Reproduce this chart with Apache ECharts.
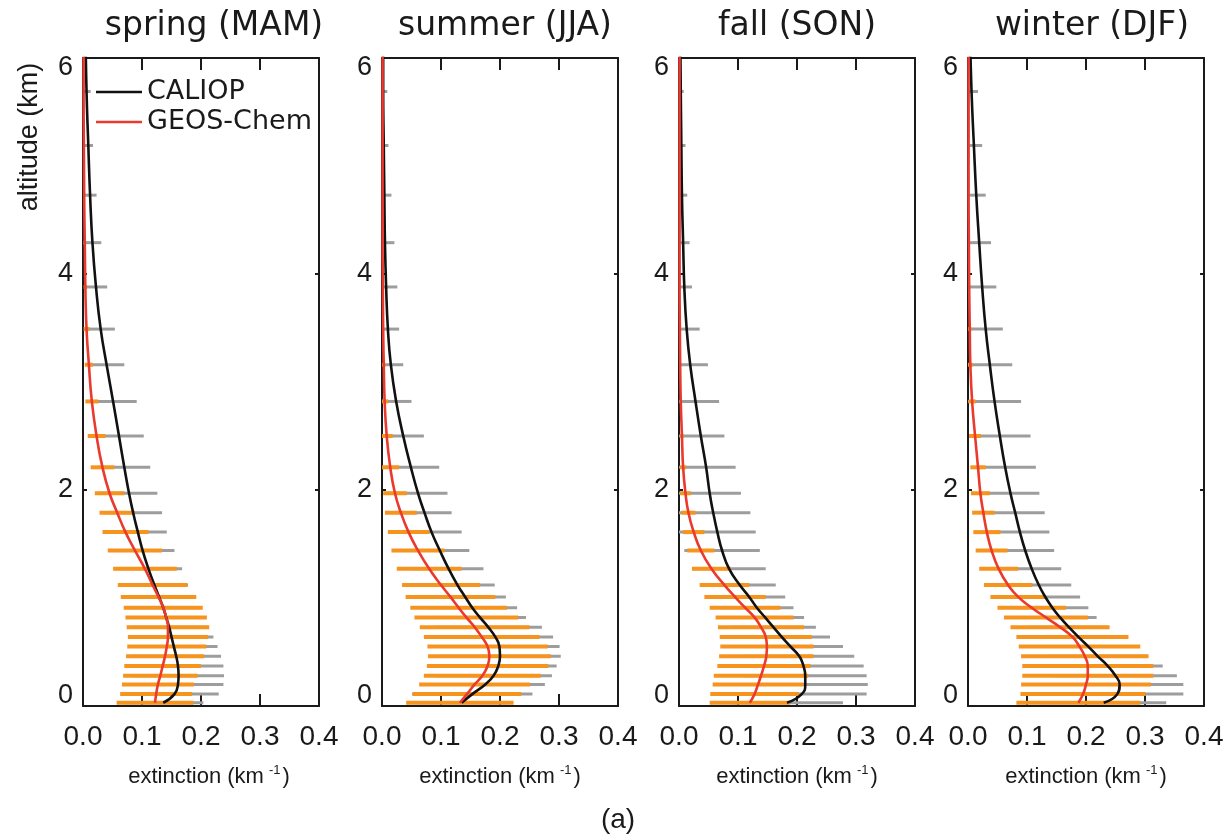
<!DOCTYPE html>
<html>
<head>
<meta charset="utf-8">
<script src="https://cdn.jsdelivr.net/npm/echarts@6/dist/echarts.min.js"></script>
<style>
  html, body { margin: 0; padding: 0; background: #ffffff; }
  #chart { width: 1227px; height: 838px; }
</style>
</head>
<body>
<div id="chart"></div>
<script>
// Altitude of each profile level (km)
const altitudes = [0.03, 0.11, 0.20, 0.28, 0.37, 0.46, 0.55, 0.64, 0.73, 0.82, 0.91, 1.01, 1.12, 1.27, 1.44,
  1.61, 1.79, 1.97, 2.21, 2.50, 2.82, 3.16, 3.49, 3.88, 4.29, 4.73, 5.19, 5.69, 6.30];

const seasonTitles = ['spring (MAM)', 'summer (JJA)', 'fall (SON)', 'winter (DJF)'];
const extinctionTicks = ['0.0', '0.1', '0.2', '0.3', '0.4'];
const altitudeTicks = ['0', '2', '4', '6'];

// Extinction profiles (km-1): CALIOP mean / std, GEOS-Chem mean / std
const springCaliop    = [0.136, 0.155, 0.161, 0.162, 0.161, 0.158, 0.154, 0.150, 0.146, 0.141, 0.136, 0.129, 0.121, 0.111, 0.101, 0.093, 0.085, 0.078, 0.070, 0.061, 0.051, 0.040, 0.030, 0.022, 0.016, 0.012, 0.009, 0.006, 0.004];
const springCaliopSd  = [0.068, 0.075, 0.077, 0.077, 0.077, 0.076, 0.074, 0.071, 0.065, 0.061, 0.060, 0.060, 0.057, 0.057, 0.054, 0.049, 0.049, 0.048, 0.044, 0.042, 0.040, 0.030, 0.024, 0.019, 0.015, 0.011, 0.008, 0.007, 0.006];
const springGeos      = [0.122, 0.124, 0.127, 0.131, 0.135, 0.139, 0.142, 0.144, 0.144, 0.141, 0.136, 0.128, 0.118, 0.105, 0.088, 0.072, 0.058, 0.045, 0.033, 0.023, 0.015, 0.010, 0.006, 0.004, 0.003, 0.002, 0.0015, 0.001, 0.001];
const springGeosSd    = [0.065, 0.061, 0.061, 0.063, 0.065, 0.066, 0.067, 0.068, 0.070, 0.069, 0.067, 0.064, 0.059, 0.054, 0.046, 0.039, 0.030, 0.025, 0.020, 0.015, 0.011, 0.007, 0.005, 0.003, 0.002, 0.002, 0.0015, 0.001, 0.001];

const summerCaliop    = [0.135, 0.153, 0.175, 0.189, 0.197, 0.200, 0.199, 0.192, 0.180, 0.166, 0.153, 0.141, 0.128, 0.113, 0.098, 0.084, 0.072, 0.061, 0.049, 0.036, 0.024, 0.015, 0.010, 0.007, 0.005, 0.004, 0.003, 0.002, 0.002];
const summerCaliopSd  = [0.080, 0.102, 0.101, 0.099, 0.099, 0.103, 0.102, 0.098, 0.091, 0.078, 0.076, 0.069, 0.063, 0.059, 0.050, 0.051, 0.046, 0.050, 0.048, 0.035, 0.026, 0.021, 0.019, 0.019, 0.016, 0.012, 0.008, 0.007, 0.006];
const summerGeos      = [0.132, 0.144, 0.157, 0.170, 0.179, 0.182, 0.179, 0.169, 0.157, 0.143, 0.130, 0.116, 0.100, 0.080, 0.061, 0.045, 0.032, 0.022, 0.014, 0.008, 0.0045, 0.003, 0.002, 0.0015, 0.001, 0.001, 0.001, 0.001, 0.001];
const summerGeosSd    = [0.091, 0.092, 0.094, 0.099, 0.103, 0.104, 0.102, 0.098, 0.093, 0.088, 0.082, 0.076, 0.066, 0.055, 0.045, 0.035, 0.027, 0.020, 0.015, 0.010, 0.006, 0.003, 0.002, 0.0015, 0.001, 0.001, 0.001, 0.001, 0.001];

const fallCaliop      = [0.183, 0.208, 0.214, 0.214, 0.211, 0.204, 0.189, 0.174, 0.160, 0.146, 0.132, 0.119, 0.103, 0.085, 0.073, 0.065, 0.058, 0.052, 0.046, 0.037, 0.028, 0.019, 0.013, 0.009, 0.007, 0.005, 0.004, 0.003, 0.002];
const fallCaliopSd    = [0.095, 0.110, 0.106, 0.104, 0.102, 0.093, 0.089, 0.082, 0.072, 0.066, 0.062, 0.061, 0.061, 0.062, 0.064, 0.065, 0.063, 0.053, 0.050, 0.040, 0.040, 0.030, 0.022, 0.013, 0.011, 0.009, 0.007, 0.005, 0.004];
const fallGeos        = [0.120, 0.128, 0.134, 0.139, 0.144, 0.148, 0.149, 0.147, 0.139, 0.128, 0.112, 0.095, 0.077, 0.055, 0.037, 0.025, 0.016, 0.011, 0.007, 0.005, 0.003, 0.002, 0.0015, 0.001, 0.001, 0.001, 0.001, 0.001, 0.001];
const fallGeosSd      = [0.068, 0.075, 0.077, 0.080, 0.079, 0.080, 0.079, 0.078, 0.073, 0.066, 0.060, 0.052, 0.042, 0.033, 0.023, 0.018, 0.012, 0.009, 0.005, 0.003, 0.002, 0.0015, 0.001, 0.001, 0.001, 0.001, 0.001, 0.001, 0.001];

const winterCaliop    = [0.230, 0.253, 0.257, 0.250, 0.237, 0.220, 0.204, 0.187, 0.171, 0.156, 0.143, 0.131, 0.120, 0.108, 0.097, 0.088, 0.080, 0.072, 0.063, 0.054, 0.045, 0.037, 0.030, 0.024, 0.019, 0.014, 0.010, 0.006, 0.003];
const winterCaliopSd  = [0.106, 0.112, 0.108, 0.104, 0.093, 0.082, 0.076, 0.071, 0.066, 0.062, 0.061, 0.059, 0.055, 0.050, 0.049, 0.050, 0.050, 0.049, 0.052, 0.052, 0.045, 0.038, 0.029, 0.024, 0.020, 0.016, 0.014, 0.011, 0.008];
const winterGeos      = [0.187, 0.195, 0.200, 0.203, 0.203, 0.198, 0.189, 0.177, 0.156, 0.132, 0.108, 0.085, 0.068, 0.052, 0.040, 0.032, 0.026, 0.021, 0.017, 0.012, 0.007, 0.004, 0.003, 0.002, 0.0015, 0.001, 0.001, 0.001, 0.001];
const winterGeosSd    = [0.105, 0.106, 0.110, 0.111, 0.111, 0.108, 0.103, 0.095, 0.084, 0.071, 0.058, 0.047, 0.041, 0.033, 0.027, 0.023, 0.019, 0.016, 0.013, 0.010, 0.006, 0.004, 0.003, 0.002, 0.0015, 0.001, 0.001, 0.001, 0.001];

const profiles = [
  { cal: springCaliop, calSd: springCaliopSd, gc: springGeos, gcSd: springGeosSd },
  { cal: summerCaliop, calSd: summerCaliopSd, gc: summerGeos, gcSd: summerGeosSd },
  { cal: fallCaliop,   calSd: fallCaliopSd,   gc: fallGeos,   gcSd: fallGeosSd },
  { cal: winterCaliop, calSd: winterCaliopSd, gc: winterGeos, gcSd: winterGeosSd }
];

// Panel layout
const panelLeft = [83, 382, 679, 968];
const titleCenter = [209, 500, 792, 1087];
const nameShift = [16, 0, 0, 0];
const panelTop = 58, panelWidth = 236, panelHeight = 648;
const X_MAX = 0.4, Y_MAX = 6;

const INK = '#1a1a1a';
const COL_CAL = '#111111';
const COL_GC = '#ea3a2d';
const COL_CAL_BAR = '#9d9d9d';
const COL_GC_BAR = '#f7941e';
const FONT = 'Liberation Sans, Arial, Helvetica, sans-serif';
const WIDE_FONT = 'DejaVu Sans, sans-serif';

// Horizontal +/- 1 sd bar at each level
function spreadBar(color, width) {
  return function (params, api) {
    const a = api.coord([api.value(0), api.value(2)]);
    const b = api.coord([api.value(1), api.value(2)]);
    return {
      type: 'line',
      shape: { x1: a[0], y1: a[1], x2: b[0], y2: b[1] },
      style: { stroke: color, lineWidth: width }
    };
  };
}

function spreadData(mean, sd) {
  const out = [];
  altitudes.forEach((h, i) => {
    if (h > Y_MAX) return;
    out.push([Math.max(0, mean[i] - sd[i]), Math.min(X_MAX, mean[i] + sd[i]), h]);
  });
  return out;
}

function lineData(mean) {
  return altitudes.map((h, i) => [mean[i], h]);
}

const grids = [], xAxes = [], yAxes = [], series = [], titles = [];

panelLeft.forEach((left, p) => {
  grids.push({ left: left, top: panelTop, width: panelWidth, height: panelHeight, containLabel: false });

  const axisLine = { show: true, onZero: false, lineStyle: { color: INK, width: 2 } };

  xAxes.push({
    type: 'value', gridIndex: p, position: 'bottom', min: 0, max: X_MAX, interval: 0.1,
    axisLine: axisLine,
    axisTick: { show: true, inside: true, length: 12, lineStyle: { color: INK, width: 2 } },
    axisLabel: {
      margin: 17, fontSize: 28, color: '#1a1a1a', fontFamily: FONT,
      formatter: (v) => extinctionTicks[Math.round(v * 10)]
    },
    splitLine: { show: false },
    name: 'extinction (km{sup|-1})',
    nameLocation: 'middle', nameGap: 58,
    nameTextStyle: {
      fontSize: 22, color: '#1a1a1a', fontFamily: FONT, padding: [0, 0, 0, nameShift[p]],
      rich: { sup: { fontSize: 13, verticalAlign: 'top', padding: [0, 2, 12, 5], fontFamily: FONT, color: '#1a1a1a' } }
    }
  });
  xAxes.push({
    type: 'value', gridIndex: p, position: 'top', min: 0, max: X_MAX, interval: 0.1,
    axisLine: axisLine,
    axisTick: { show: true, inside: true, length: 12, lineStyle: { color: INK, width: 2 } },
    axisLabel: { show: false }, splitLine: { show: false }
  });

  yAxes.push({
    type: 'value', gridIndex: p, position: 'left', min: 0, max: Y_MAX, interval: 2,
    axisLine: axisLine,
    axisTick: { show: true, inside: true, length: 4, lineStyle: { color: INK, width: 2 } },
    axisLabel: {
      margin: 10, color: '#1a1a1a', fontFamily: FONT, fontSize: 27,
      formatter: (v) => {
        const t = altitudeTicks[Math.round(v / 2)];
        if (v === Y_MAX) return '{hi|' + t + '}';
        if (v === 0) return '{lo|' + t + '}';
        return '{n|' + t + '}';
      },
      rich: {
        hi: { fontSize: 27, padding: [20, 0, 0, 0], fontFamily: FONT, color: '#1a1a1a' },
        lo: { fontSize: 27, padding: [0, 0, 20, 0], fontFamily: FONT, color: '#1a1a1a' },
        n:  { fontSize: 27, fontFamily: FONT, color: '#1a1a1a' }
      }
    },
    splitLine: { show: false }
  });
  yAxes.push({
    type: 'value', gridIndex: p, position: 'right', min: 0, max: Y_MAX, interval: 2,
    axisLine: axisLine,
    axisTick: { show: true, inside: true, length: 4, lineStyle: { color: INK, width: 2 } },
    axisLabel: { show: false }, splitLine: { show: false }
  });

  const prof = profiles[p];
  const xi = 2 * p, yi = 2 * p;

  series.push({
    name: 'CALIOP spread', type: 'custom', xAxisIndex: xi, yAxisIndex: yi, z: 2,
    renderItem: spreadBar(COL_CAL_BAR, 3), encode: { x: [0, 1], y: 2 },
    data: spreadData(prof.cal, prof.calSd), silent: true
  });
  series.push({
    name: 'GEOS-Chem spread', type: 'custom', xAxisIndex: xi, yAxisIndex: yi, z: 3,
    renderItem: spreadBar(COL_GC_BAR, 4), encode: { x: [0, 1], y: 2 },
    data: spreadData(prof.gc, prof.gcSd), silent: true
  });
  series.push({
    name: 'CALIOP', type: 'line', xAxisIndex: xi, yAxisIndex: yi, z: 4,
    data: lineData(prof.cal), smooth: 0.5, showSymbol: false, symbol: 'none', clip: true,
    lineStyle: { color: COL_CAL, width: 2.6 }, itemStyle: { color: COL_CAL }
  });
  series.push({
    name: 'GEOS-Chem', type: 'line', xAxisIndex: xi, yAxisIndex: yi, z: 5,
    data: lineData(prof.gc), smooth: 0.5, showSymbol: false, symbol: 'none', clip: true,
    lineStyle: { color: COL_GC, width: 2.6 }, itemStyle: { color: COL_GC }
  });

  titles.push({
    text: seasonTitles[p], left: titleCenter[p], top: 5, textAlign: 'center',
    textStyle: { fontSize: 33, fontWeight: 'normal', color: '#1a1a1a', fontFamily: WIDE_FONT }
  });
});

titles.push({
  text: '(a)', left: 613, top: 801, textAlign: 'center',
  textStyle: { fontSize: 28, fontWeight: 'normal', color: '#1a1a1a', fontFamily: FONT }
});

const chart = echarts.init(document.getElementById('chart'), null, { renderer: 'canvas' });
chart.setOption({
  animation: false,
  backgroundColor: '#ffffff',
  title: titles,
  grid: grids,
  xAxis: xAxes,
  yAxis: yAxes,
  legend: {
    data: ['CALIOP', 'GEOS-Chem'], orient: 'vertical', left: 96, top: 77, padding: 0,
    icon: 'rect', itemWidth: 46, itemHeight: 2.5, itemGap: 0,
    textStyle: { fontSize: 27, color: '#1a1a1a', fontFamily: WIDE_FONT, lineHeight: 30 },
    selectedMode: false
  },
  graphic: [{
    type: 'text', x: 30, y: 137, rotation: Math.PI / 2,
    style: { text: 'altitude (km)', fontSize: 27, fill: '#1a1a1a', fontFamily: FONT, align: 'center', verticalAlign: 'middle' }
  }],
  series: series
});
</script>
</body>
</html>
